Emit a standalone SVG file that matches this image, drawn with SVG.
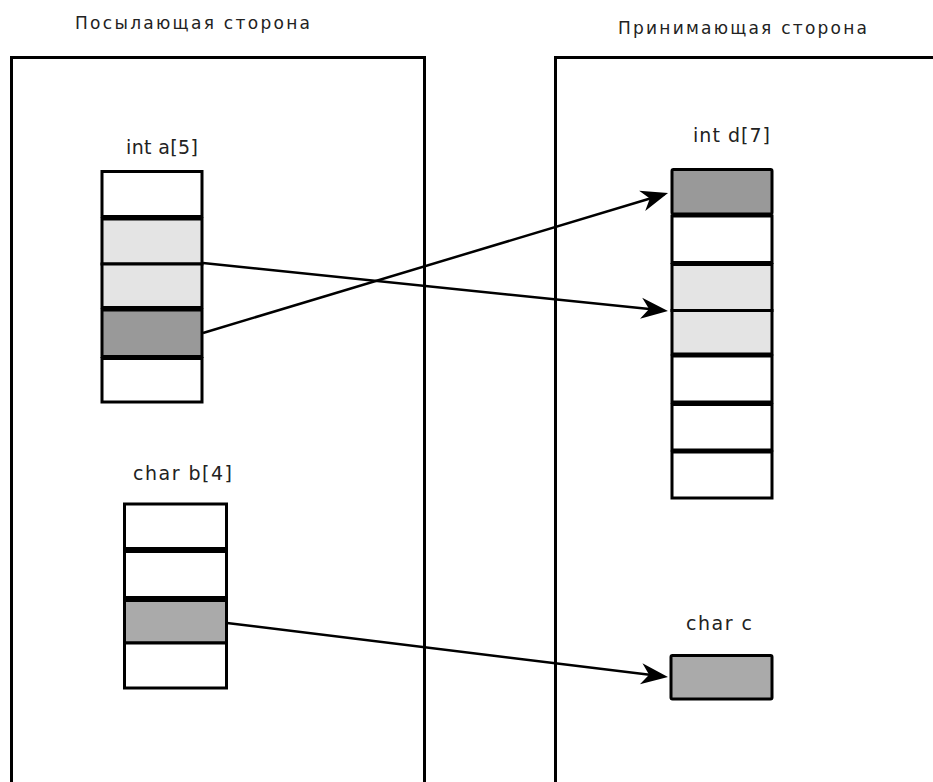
<svg xmlns="http://www.w3.org/2000/svg" width="933" height="782" viewBox="0 0 933 782">
  <style>
    .panel { fill: none; stroke: #000; stroke-width: 3; }
    .cell { stroke: #000; stroke-width: 3; }
    .empty { fill: #fff; }
    .light { fill: #e4e4e4; }
    .dark { fill: #999999; }
    .mid { fill: #aaaaaa; }
    .label { font-family: "DejaVu Sans", "Liberation Sans", sans-serif; fill: #222; }
    .title { font-size: 17px; }
    .name { font-size: 19px; }
    .conn { fill: none; stroke: #000; stroke-width: 2.5; marker-end: url(#arrow); }
  </style>
  <defs>
    <marker id="arrow" markerUnits="userSpaceOnUse" markerWidth="40" markerHeight="30" viewBox="-30 -15 40 30" refX="0" refY="0" orient="auto">
      <path d="M4,0 L-23,-10.5 L-15,0 L-23,10.5 Z" fill="#000"/>
    </marker>
  </defs>
  <rect width="933" height="782" fill="#fff"/>

  <!-- sending side -->
  <g id="sender">
    <path class="panel" d="M11.5,790 V57.5 H424.5 V790"/>
    <text class="label title" x="75" y="29" textLength="235" lengthAdjust="spacing">Посылающая сторона</text>
  </g>

  <!-- receiving side -->
  <g id="receiver">
    <path class="panel" d="M555.5,790 V57.5 H940"/>
    <text class="label title" x="618" y="34" textLength="249" lengthAdjust="spacing">Принимающая сторона</text>
  </g>

  <!-- int a[5] -->
  <g id="array-a">
    <text class="label name" x="126" y="154" textLength="72" lengthAdjust="spacing">int a[5]</text>
    <rect class="cell empty" x="102" y="171.5" width="100" height="45"/>
    <rect class="cell light" x="102" y="219" width="100" height="45"/>
    <rect class="cell light" x="102" y="264" width="100" height="43.5"/>
    <rect class="cell dark" x="102" y="310" width="100" height="46.5"/>
    <rect class="cell empty" x="102" y="358.5" width="100" height="43.5"/>
  </g>

  <!-- char b[4] -->
  <g id="array-b">
    <text class="label name" x="133" y="480" textLength="99" lengthAdjust="spacing">char b[4]</text>
    <rect class="cell empty" x="124.5" y="504" width="102" height="44.5"/>
    <rect class="cell empty" x="124.5" y="551.5" width="102" height="46"/>
    <rect class="cell mid" x="124.5" y="600.5" width="102" height="42.5"/>
    <rect class="cell empty" x="124.5" y="643" width="102" height="45"/>
  </g>

  <!-- int d[7] -->
  <g id="array-d">
    <text class="label name" x="693" y="142" textLength="77" lengthAdjust="spacing">int d[7]</text>
    <rect class="cell dark" x="672" y="169.5" width="100" height="44.5" rx="1.5"/>
    <rect class="cell empty" x="672" y="216" width="100" height="46.5"/>
    <rect class="cell light" x="672" y="264.5" width="100" height="46"/>
    <rect class="cell light" x="672" y="310.5" width="100" height="43.5"/>
    <rect class="cell empty" x="672" y="356" width="100" height="46"/>
    <rect class="cell empty" x="672" y="404.5" width="100" height="45.5"/>
    <rect class="cell empty" x="672" y="452" width="100" height="46"/>
  </g>

  <!-- char c -->
  <g id="var-c">
    <text class="label name" x="686" y="630" textLength="66" lengthAdjust="spacing">char c</text>
    <rect class="cell mid" x="671" y="655.5" width="101" height="43.5" rx="1.5"/>
  </g>

  <!-- transfers -->
  <g id="connectors">
    <line class="conn" x1="203" y1="263" x2="664" y2="310.6"/>
    <line class="conn" x1="203" y1="333" x2="664.2" y2="194.2"/>
    <line class="conn" x1="227" y1="623" x2="664" y2="676.5"/>
  </g>
</svg>
